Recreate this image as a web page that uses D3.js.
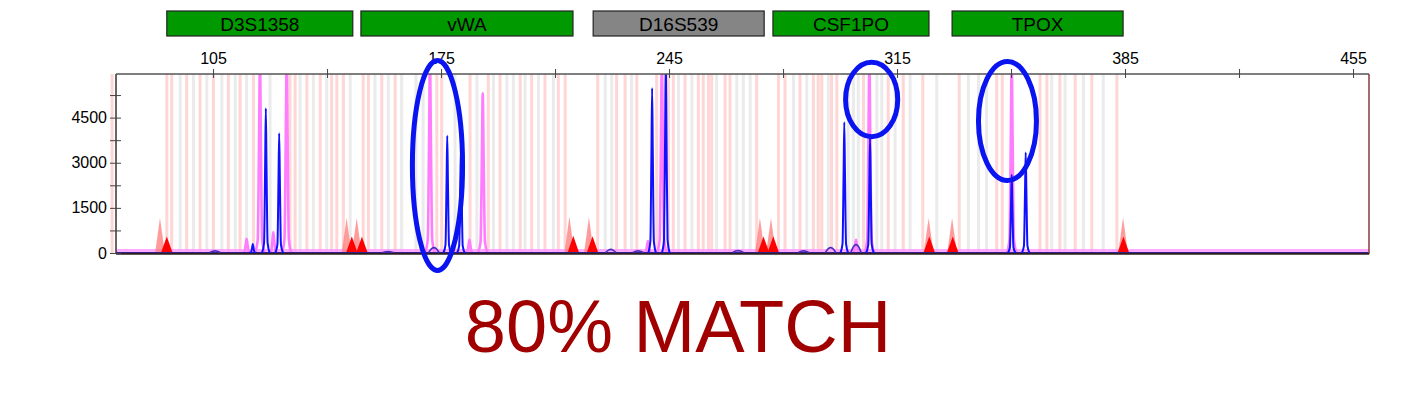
<!DOCTYPE html>
<html lang="en">
<head>
<meta charset="UTF-8">
<script src="https://d3js.org/d3.v7.min.js"></script>
<style>
    body { margin: 0; background: #fff; }
    text { font-family: "Liberation Sans", Arial, sans-serif; }
</style>
</head>
<body>
<svg id="chart" width="1401" height="414"></svg>
<script>
// loci panels (bp)
const lociNames = ["D3S1358", "vWA", "D16S539", "CSF1PO", "TPOX"];
const lociStart = [90.8, 150.4, 221.7, 276.9, 331.9];
const lociEnd = [147.9, 215.5, 274.2, 324.8, 384.4];
const lociColor = ["#009a00", "#009a00", "#858585", "#009a00", "#009a00"];

// axis ticks
const sizeLabels = [105, 175, 245, 315, 385, 455];
const sizeMinor = [140, 210, 280, 350, 420];
const rfuLabels = [0, 1500, 3000, 4500];
const rfuMinor = [750, 2250, 3750, 5250];

// allele bins (bp)
const pinkBins = [74.0, 90.8, 92.3, 96.9, 101.0, 105.1, 109.7, 113.3, 117.4, 128.6, 130.2, 133.8, 137.9,
    141.4, 143.0, 145.0, 151.1, 152.7, 156.8, 160.9, 173.7, 175.2, 183.9, 189.5, 193.1, 199.3, 202.8,
    206.9, 211.0, 213.1, 223.1, 228.9, 231.5, 235.1, 241.2, 244.8, 246.3, 249.9, 254.0, 255.5, 257.1,
    258.1, 262.2, 263.7, 271.9, 278.6, 280.6, 285.2, 289.3, 290.8, 291.9, 294.9, 296.5, 304.7, 312.3,
    316.9, 322.9, 334.1, 345.6, 347.3, 358.9, 361.0, 365.0, 369.7, 374.8, 382.5];
const greyBins = [94.9, 99.0, 103.1, 107.7, 111.8, 115.3, 122.5, 131.7, 135.8, 139.9, 147.1, 154.7, 158.8,
    162.9, 167.3, 169.5, 179.3, 186.0, 191.1, 195.2, 197.2, 200.8, 204.9, 209.5, 225.4, 227.4, 233.5,
    247.9, 252.0, 259.6, 265.8, 267.8, 269.9, 283.2, 287.3, 293.9, 300.0, 301.6, 303.1, 308.8, 310.3,
    314.4, 319.0, 327.2, 336.9, 340.0, 342.5, 362.5, 366.6, 372.2, 378.3];

// blue dye peaks
const bluePos = [117.2, 121.2, 125.3, 176.9, 181.1, 239.8, 244.0, 298.8, 306.7, 350.2, 354.5];
const blueHeight = [300, 4810, 3980, 3900, 3450, 5480, 6500, 4350, 3820, 2600, 3340];
const bumpPos = [105.6, 158.7, 172.8, 227.1, 235.5, 266.2, 286.3, 294.6, 302.4];
const bumpHeight = [70, 50, 180, 120, 70, 80, 70, 180, 280];

// pink (pull-up) peaks
const magentaPos = [115.3, 119.4, 123.5, 127.6, 171.6, 183.7, 187.8, 238.5, 242.8, 302.4, 306.5, 350.2];
const magentaHeight = [470, 6500, 700, 6500, 6500, 440, 5310, 400, 6500, 440, 6500, 6500];

// size standard peaks
const redPos = [88.7, 146.0, 149.1, 214.4, 220.4, 272.9, 276.3, 324.7, 331.9, 384.4];
const redHeight = [1160, 1160, 1160, 1215, 1200, 1160, 1160, 1160, 1160, 1180];
const redDarkPos = [90.8, 147.6, 150.7, 215.6, 221.5, 274.0, 277.0, 324.9, 332.1, 384.5];
const redDarkHeight = [550, 550, 540, 575, 560, 550, 560, 550, 550, 550];

// circled regions
const circleBp = [173.9, 307.2, 348.9];
const circleRfu = [2909, 5103, 4388];
const circleBpRadius = [7.7, 8.0, 8.9];
const circleRfuRadius = [3490, 1237, 1978];

const matchText = "80% MATCH";

const svg = d3.select("#chart");

const x = d3.scaleLinear().domain([75.2, 459.9]).range([116, 1369]);
const y = d3.scaleLinear().domain([0, 5950]).range([253, 74]);

// locus boxes
const loci = lociNames.map((n, i) => ({ name: n, s: lociStart[i], e: lociEnd[i], c: lociColor[i] }));
svg.selectAll(".locus")
    .data(loci)
    .enter().append("rect")
    .attr("x", d => x(d.s))
    .attr("y", 11)
    .attr("width", d => x(d.e) - x(d.s))
    .attr("height", 25)
    .attr("fill", d => d.c)
    .attr("stroke", "#222")
    .attr("stroke-width", 1.2);
svg.selectAll(".locusLabel")
    .data(loci)
    .enter().append("text")
    .attr("x", d => (x(d.s) + x(d.e)) / 2)
    .attr("y", 30.5)
    .attr("text-anchor", "middle")
    .style("font-size", "19px")
    .style("fill", "#000")
    .text(d => d.name);

svg.append("clipPath").attr("id", "plotClip")
    .append("rect")
    .attr("x", 100).attr("y", y.range()[1])
    .attr("width", x.range()[1] - 100)
    .attr("height", y.range()[0] - y.range()[1]);

const plot = svg.append("g").attr("clip-path", "url(#plotClip)");

// bins
plot.selectAll(".greyBin")
    .data(greyBins)
    .enter().append("rect")
    .attr("x", d => x(d) - 1.5)
    .attr("y", y.range()[1])
    .attr("width", 3)
    .attr("height", y.range()[0] - y.range()[1])
    .attr("fill", "#ebebeb");
plot.selectAll(".pinkBin")
    .data(pinkBins)
    .enter().append("rect")
    .attr("x", d => x(d) - 1.5)
    .attr("y", y.range()[1])
    .attr("width", 3)
    .attr("height", y.range()[0] - y.range()[1])
    .attr("fill", "#ffd6d6");

// baseline noise
plot.append("line")
    .attr("x1", x.range()[0]).attr("x2", x.range()[1])
    .attr("y1", y(70)).attr("y2", y(70))
    .attr("stroke", "#ff96ff").attr("stroke-width", 4).attr("opacity", 0.8);

// size standard
const tri = (p, h, w) => [[p - w, 0], [p, h], [p + w, 0]];
const area = d3.line().x(d => x(d[0])).y(d => y(d[1]));
redPos.forEach((p, i) => {
    plot.append("path").attr("d", area(tri(p, redHeight[i], 1.5)) + "Z")
        .attr("fill", "#ff7a7a").attr("opacity", 0.75);
});
redDarkPos.forEach((p, i) => {
    plot.append("path").attr("d", area(tri(p, redDarkHeight[i], 1.8)) + "Z")
        .attr("fill", "#ff0000");
});

// peak shape
const peakLine = d3.line().x(d => x(d[0])).y(d => y(d[1])).curve(d3.curveMonotoneX);
const peak = (p, h, w) => [[p - w, 0], [p - w * 0.45, h * 0.07], [p - w * 0.18, h * 0.6], [p, h],
    [p + w * 0.18, h * 0.6], [p + w * 0.45, h * 0.07], [p + w, 0]];

magentaPos.forEach((p, i) => {
    plot.append("path").attr("d", peakLine(peak(p, magentaHeight[i], 1.5)))
        .attr("fill", "none").attr("stroke", "#ff7cff").attr("stroke-width", 2.6);
});

plot.append("line")
    .attr("x1", x.range()[0]).attr("x2", x.range()[1])
    .attr("y1", y(15)).attr("y2", y(15))
    .attr("stroke", "#34208a").attr("stroke-width", 1.3);

bumpPos.forEach((p, i) => {
    plot.append("path").attr("d", peakLine([[p - 1.6, 15], [p - 0.7, bumpHeight[i] * 0.8], [p, bumpHeight[i]], [p + 0.7, bumpHeight[i] * 0.8], [p + 1.6, 15]]))
        .attr("fill", "none").attr("stroke", "#4a2cc0").attr("stroke-width", 1.6);
});

bluePos.forEach((p, i) => {
    plot.append("path").attr("d", peakLine(peak(p, blueHeight[i], 1.2)))
        .attr("fill", "none").attr("stroke", "#1010ff").attr("stroke-width", 2);
});

// frame
const [x0, x1] = x.range();
const [yb, yt] = y.range();
svg.append("line").attr("x1", x0).attr("x2", x0).attr("y1", yt).attr("y2", yb + 1)
    .attr("stroke", "#333").attr("stroke-width", 1.5);
svg.append("line").attr("x1", x1).attr("x2", x1).attr("y1", yt).attr("y2", yb + 1)
    .attr("stroke", "#8a3a3a").attr("stroke-width", 1.5);
svg.append("line").attr("x1", x0).attr("x2", x1).attr("y1", yb + 0.8).attr("y2", yb + 0.8)
    .attr("stroke", "#2d2020").attr("stroke-width", 1.8);
svg.append("line").attr("x1", x0).attr("x2", x1).attr("y1", yt).attr("y2", yt)
    .attr("stroke", "#555").attr("stroke-width", 1.6);

// top size axis
const topAxis = svg.append("g")
    .attr("transform", `translate(0,${yt})`)
    .call(d3.axisTop(x)
        .tickValues(sizeLabels.concat(sizeMinor).sort((a, b) => a - b))
        .tickSize(5).tickPadding(5)
        .tickFormat(d => sizeLabels.includes(d) ? d : ""));
topAxis.select(".domain").remove();
topAxis.selectAll(".tick line").attr("y1", 4).attr("stroke", "#444");
topAxis.selectAll("text").style("font-size", "16px").attr("fill", "#000")
    .style("font-family", "'Liberation Sans', Arial, sans-serif");

// left rfu axis
const leftAxis = svg.append("g")
    .attr("transform", `translate(${x0},0)`)
    .call(d3.axisLeft(y)
        .tickValues(rfuLabels.concat(rfuMinor).sort((a, b) => a - b))
        .tickSize(6).tickPadding(3)
        .tickFormat(d => rfuLabels.includes(d) ? d : ""));
leftAxis.select(".domain").remove();
leftAxis.selectAll(".tick line").attr("x1", 5).attr("stroke", "#444");
leftAxis.selectAll("text").style("font-size", "16px").attr("fill", "#000")
    .style("font-family", "'Liberation Sans', Arial, sans-serif");

// annotation ellipses
circleBp.forEach((c, i) => {
    svg.append("ellipse")
        .attr("cx", x(c))
        .attr("cy", y(circleRfu[i]))
        .attr("rx", x(c + circleBpRadius[i]) - x(c))
        .attr("ry", y(0) - y(circleRfuRadius[i]))
        .attr("fill", "none")
        .attr("stroke", "#0a14f0")
        .attr("stroke-width", 5);
});

svg.append("text")
    .attr("x", 678)
    .attr("y", 352)
    .attr("text-anchor", "middle")
    .style("font-size", "74px")
    .style("fill", "#a00000")
    .text(matchText);
</script>
</body>
</html>
